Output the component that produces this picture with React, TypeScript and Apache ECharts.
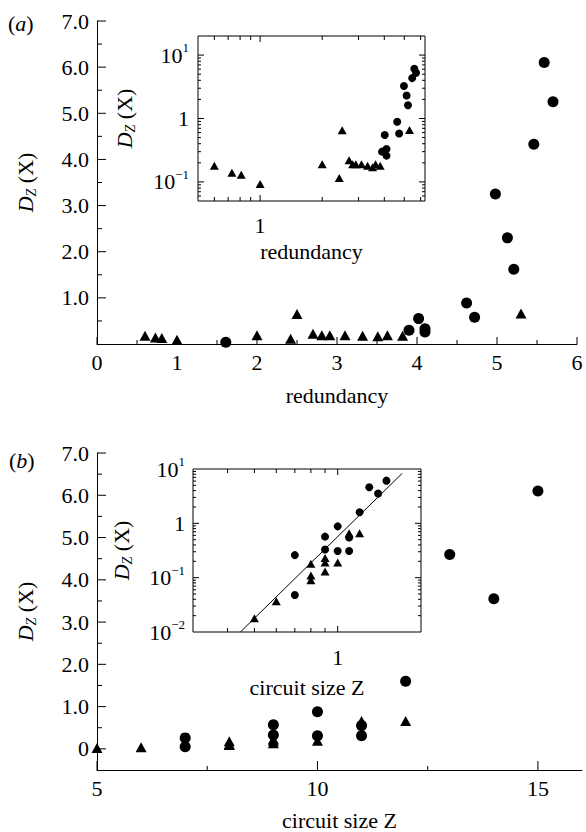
import React, { useEffect, useRef } from 'react';
import * as echarts from 'echarts';

// ---------- panel (a): D_Z(X) vs redundancy ----------
const redTriX = [0.6, 0.73, 0.81, 1.0, 2.0, 2.42, 2.5, 2.7, 2.81, 2.91, 3.1, 3.32, 3.51, 3.63, 3.82, 5.3];
const redTriY = [0.18, 0.14, 0.13, 0.093, 0.19, 0.115, 0.65, 0.22, 0.19, 0.19, 0.19, 0.18, 0.17, 0.19, 0.18, 0.66];
const redCirX = [1.61, 3.9, 4.02, 4.1, 4.1, 4.62, 4.72, 4.98, 5.13, 5.21, 5.46, 5.59, 5.7];
const redCirY = [0.04, 0.3, 0.55, 0.26, 0.33, 0.89, 0.58, 3.25, 2.3, 1.62, 4.33, 6.1, 5.25];

// ---------- panel (b): D_Z(X) vs circuit size Z ----------
const sizeCirZ = [7, 7, 9, 9, 10, 10, 11, 11, 12, 13, 14, 15];
const sizeCirD = [0.26, 0.048, 0.57, 0.33, 0.88, 0.31, 0.55, 0.31, 1.6, 4.6, 3.55, 6.1];
const sizeTriZ = [5, 6, 8, 8, 8, 9, 9, 9, 10, 11, 12];
const sizeTriD = [0.018, 0.037, 0.18, 0.11, 0.09, 0.23, 0.19, 0.13, 0.19, 0.66, 0.66];
// inset (b) uses circuit size in units of 10
const insetScaleZ = 10;
// fitted power law line in inset (b), its two end points
const fitX = [0.445, 1.71];
const fitY = [0.01, 8.3];

// ---------- tick values ----------
const aXMajor = [0, 1, 2, 3, 4, 5, 6];
const aXMinor = [0.5, 1.5, 2.5, 3.5, 4.5, 5.5];
const aYMajor = [1, 2, 3, 4, 5, 6, 7];
const aYMinor = [0.5, 1.5, 2.5, 3.5, 4.5, 5.5, 6.5];
const aiXMajor = [1];
const aiXMinor = [0.6, 0.7, 0.8, 0.9, 2, 3, 4, 5, 6];
const aiYMajor = [0.1, 1, 10];
const aiYMinor = [0.06, 0.07, 0.08, 0.09, 0.2, 0.3, 0.4, 0.5, 0.6, 0.7, 0.8, 0.9, 2, 3, 4, 5, 6, 7, 8, 9];
const bXMajor = [5, 10, 15];
const bXMinor = [7.5, 12.5];
const bYMajor = [0, 1, 2, 3, 4, 5, 6, 7];
const bYMinor = [0.5, 1.5, 2.5, 3.5, 4.5, 5.5, 6.5];
const biXMajor = [1];
const biXMinor = [0.4, 0.5, 0.6, 0.7, 0.8, 0.9];
const biYMajor = [0.1, 1];
const biYMinor = [0.02, 0.03, 0.04, 0.05, 0.06, 0.07, 0.08, 0.09, 0.2, 0.3, 0.4, 0.5, 0.6, 0.7, 0.8, 0.9, 2, 3, 4, 5, 6, 7, 8, 9];

const FONT = '"Liberation Serif", "Times New Roman", serif';
const FS = 22;

const zip = (xs: number[], ys: number[]) => xs.map((x, i) => [x, ys[i]]);

// side: 0 bottom, 1 top, 2 left, 3 right
const mk = (vals: number[], axis: 'x' | 'y', ref: number, len: number, sides: number[]) => {
  const out: number[][] = [];
  sides.forEach((s) => vals.forEach((v) => out.push(axis === 'x' ? [v, ref, len, s] : [ref, v, len, s])));
  return out;
};

const tickRender = (params: any, api: any) => {
  const cs = params.coordSys;
  const p = api.coord([api.value(0), api.value(1)]);
  const len = api.value(2);
  const side = api.value(3);
  const bottom = cs.y + cs.height;
  const right = cs.x + cs.width;
  let s;
  if (side === 0) s = { x1: p[0], y1: bottom, x2: p[0], y2: bottom - len };
  else if (side === 1) s = { x1: p[0], y1: cs.y, x2: p[0], y2: cs.y + len };
  else if (side === 2) s = { x1: cs.x, y1: p[1], x2: cs.x + len, y2: p[1] };
  else s = { x1: right, y1: p[1], x2: right - len, y2: p[1] };
  return { type: 'line', shape: s, style: { stroke: '#000', lineWidth: 1 } };
};

const labelRich = {
  b: { fontSize: FS, fontFamily: FONT, color: '#000', lineHeight: 28 },
  s: { fontSize: 13, fontFamily: FONT, color: '#000', verticalAlign: 'top', lineHeight: 28 },
};

const logLabel = (v: number) => {
  const l = Math.log10(v);
  const e = Math.round(l);
  if (Math.abs(l - e) > 1e-6) return '';
  if (e === 0) return '{b|1}';
  return `{b|10}{s|${e < 0 ? '\u2212' + -e : e}}`;
};

const nameRich = {
  i: { fontSize: FS, fontFamily: FONT, fontStyle: 'italic', color: '#000', lineHeight: 26 },
  z: { fontSize: 14, fontFamily: FONT, fontStyle: 'italic', color: '#000', verticalAlign: 'bottom', lineHeight: 26 },
  n: { fontSize: FS, fontFamily: FONT, color: '#000', lineHeight: 26 },
};
const yName = '{i|D}{z|Z}{n| (X)}';

const baseLabel = { color: '#000', fontFamily: FONT, fontSize: FS };
const axisLineOn = { show: true, onZero: false, lineStyle: { color: '#000', width: 1 } };
const off = { show: false };
const black = { color: '#000', opacity: 1 };

export default function App() {
  const ref = useRef<HTMLDivElement>(null);
  useEffect(() => {
    const chart = echarts.init(ref.current!, null, { renderer: 'svg' });
    const nameStyle = { color: '#000', fontFamily: FONT, fontSize: FS };
    const option: any = {
      animation: false,
      backgroundColor: '#fff',
      grid: [
        { left: 97, top: 21, width: 480, height: 323, show: false },
        { left: 198, top: 36, width: 227, height: 165, show: true, borderColor: '#000', borderWidth: 1, backgroundColor: '#fff' },
        { left: 97, top: 453, width: 485, height: 320, show: false },
        { left: 193, top: 469, width: 228, height: 163, show: true, borderColor: '#000', borderWidth: 1, backgroundColor: '#fff' },
      ],
      xAxis: [
        {
          gridIndex: 0, type: 'value', min: 0, max: 6, interval: 1,
          axisLine: axisLineOn, axisTick: off, splitLine: off,
          axisLabel: { ...baseLabel, margin: 7, formatter: (v: number) => String(v) },
          name: 'redundancy', nameLocation: 'middle', nameGap: 40, nameTextStyle: nameStyle,
        },
        {
          gridIndex: 1, type: 'log', logBase: 10, min: 0.5, max: 6.3,
          axisLine: off, axisTick: off, splitLine: off, minorTick: off,
          axisLabel: { ...baseLabel, margin: 10, formatter: logLabel, rich: labelRich },
          name: 'redundancy', nameLocation: 'middle', nameGap: 39, nameTextStyle: nameStyle,
        },
        {
          gridIndex: 2, type: 'value', min: 5, max: 16, interval: 5,
          axisLine: axisLineOn, axisTick: off, splitLine: off,
          axisLabel: { ...baseLabel, margin: 7, formatter: (v: number) => (v % 5 === 0 ? String(v) : '') },
          name: 'circuit size Z', nameLocation: 'middle', nameGap: 39, nameTextStyle: nameStyle,
        },
        {
          gridIndex: 3, type: 'log', logBase: 10, min: 0.3, max: 2,
          axisLine: off, axisTick: off, splitLine: off, minorTick: off,
          axisLabel: { ...baseLabel, margin: 11, formatter: logLabel, rich: labelRich },
          name: 'circuit size Z', nameLocation: 'middle', nameGap: 44, nameTextStyle: nameStyle,
        },
      ],
      yAxis: [
        {
          gridIndex: 0, type: 'value', min: 0, max: 7, interval: 1,
          axisLine: axisLineOn, axisTick: off, splitLine: off,
          axisLabel: { ...baseLabel, margin: 8, formatter: (v: number) => (v === 0 ? '' : v.toFixed(1)) },
          name: yName, nameLocation: 'middle', nameRotate: 90, nameGap: 59,
          nameTextStyle: { ...nameStyle, rich: nameRich },
        },
        {
          gridIndex: 1, type: 'log', logBase: 10, min: 0.05, max: 20,
          axisLine: off, axisTick: off, splitLine: off, minorTick: off,
          axisLabel: { ...baseLabel, margin: 9, formatter: logLabel, rich: labelRich },
          name: yName, nameLocation: 'middle', nameRotate: 90, nameGap: 61,
          nameTextStyle: { ...nameStyle, rich: nameRich },
        },
        {
          gridIndex: 2, type: 'value', min: -0.5, max: 7, interval: 0.5,
          axisLine: axisLineOn, axisTick: off, splitLine: off,
          axisLabel: {
            ...baseLabel, margin: 8,
            formatter: (v: number) => (v === 0 ? '0' : v > 0 && Number.isInteger(v) ? v.toFixed(1) : ''),
          },
          name: yName, nameLocation: 'middle', nameRotate: 90, nameGap: 59,
          nameTextStyle: { ...nameStyle, rich: nameRich },
        },
        {
          gridIndex: 3, type: 'log', logBase: 10, min: 0.01, max: 10,
          axisLine: off, axisTick: off, splitLine: off, minorTick: off,
          axisLabel: { ...baseLabel, margin: 8, formatter: logLabel, rich: labelRich },
          name: yName, nameLocation: 'middle', nameRotate: 90, nameGap: 59,
          nameTextStyle: { ...nameStyle, rich: nameRich },
        },
      ],
      graphic: [
        {
          type: 'text', left: 8, top: 12,
          style: {
            text: '{n|(}{i|a}{n|)}',
            rich: { n: { fontSize: FS, fontFamily: FONT, fill: '#000' }, i: { fontSize: FS, fontFamily: FONT, fontStyle: 'italic', fill: '#000' } },
          },
        },
        {
          type: 'text', left: 9, top: 449,
          style: {
            text: '{n|(}{i|b}{n|)}',
            rich: { n: { fontSize: FS, fontFamily: FONT, fill: '#000' }, i: { fontSize: FS, fontFamily: FONT, fontStyle: 'italic', fill: '#000' } },
          },
        },
      ],
      series: [
        // ticks
        {
          type: 'custom', xAxisIndex: 0, yAxisIndex: 0, renderItem: tickRender, silent: true, z: 3,
          data: [
            ...mk(aXMajor, 'x', 1, 7, [0]), ...mk(aXMinor, 'x', 1, 4, [0]),
            ...mk(aYMajor, 'y', 1, 9, [2]), ...mk(aYMinor, 'y', 1, 5, [2]),
          ],
        },
        {
          type: 'custom', xAxisIndex: 1, yAxisIndex: 1, renderItem: tickRender, silent: true, z: 3,
          data: [
            ...mk(aiXMajor, 'x', 1, 6, [0, 1]), ...mk(aiXMinor, 'x', 1, 4, [0, 1]),
            ...mk(aiYMajor, 'y', 1, 6, [2, 3]), ...mk(aiYMinor, 'y', 1, 3, [2, 3]),
          ],
        },
        {
          type: 'custom', xAxisIndex: 2, yAxisIndex: 2, renderItem: tickRender, silent: true, z: 3,
          data: [
            ...mk(bXMajor, 'x', 1, 9, [0]), ...mk(bXMinor, 'x', 1, 4, [0]),
            ...mk(bYMajor, 'y', 6, 9, [2]), ...mk(bYMinor, 'y', 6, 5, [2]),
          ],
        },
        {
          type: 'custom', xAxisIndex: 3, yAxisIndex: 3, renderItem: tickRender, silent: true, z: 3,
          data: [
            ...mk(biXMajor, 'x', 1, 6, [0, 1]), ...mk(biXMinor, 'x', 1, 4, [0, 1]),
            ...mk(biYMajor, 'y', 1, 6, [2, 3]), ...mk(biYMinor, 'y', 1, 3, [2, 3]),
          ],
        },
        // panel (a) main
        { type: 'scatter', xAxisIndex: 0, yAxisIndex: 0, symbol: 'triangle', symbolSize: [11, 10], itemStyle: black, data: zip(redTriX, redTriY), z: 4 },
        { type: 'scatter', xAxisIndex: 0, yAxisIndex: 0, symbol: 'circle', symbolSize: 11, itemStyle: black, data: zip(redCirX, redCirY), z: 4 },
        // panel (a) inset
        { type: 'scatter', xAxisIndex: 1, yAxisIndex: 1, clip: true, symbol: 'triangle', symbolSize: [9, 8], itemStyle: black, data: zip(redTriX, redTriY), z: 4 },
        { type: 'scatter', xAxisIndex: 1, yAxisIndex: 1, clip: true, symbol: 'circle', symbolSize: 8, itemStyle: black, data: zip(redCirX, redCirY), z: 4 },
        // panel (b) main
        { type: 'scatter', xAxisIndex: 2, yAxisIndex: 2, symbol: 'triangle', symbolSize: [11, 10], itemStyle: black, data: zip(sizeTriZ, sizeTriD), z: 4 },
        { type: 'scatter', xAxisIndex: 2, yAxisIndex: 2, symbol: 'circle', symbolSize: 11, itemStyle: black, data: zip(sizeCirZ, sizeCirD), z: 4 },
        // panel (b) inset
        { type: 'scatter', xAxisIndex: 3, yAxisIndex: 3, clip: true, symbol: 'triangle', symbolSize: [9, 8], itemStyle: black, data: sizeTriZ.map((z, i) => [z / insetScaleZ, sizeTriD[i]]), z: 4 },
        { type: 'scatter', xAxisIndex: 3, yAxisIndex: 3, clip: true, symbol: 'circle', symbolSize: 8, itemStyle: black, data: sizeCirZ.map((z, i) => [z / insetScaleZ, sizeCirD[i]]), z: 4 },
        {
          type: 'line', xAxisIndex: 3, yAxisIndex: 3, symbol: 'none', clip: true, silent: true,
          lineStyle: { color: '#000', width: 1 }, data: zip(fitX, fitY), z: 4,
        },
      ],
    };
    chart.setOption(option);
    return () => chart.dispose();
  }, []);
  return (
    <div
      ref={ref}
      style={{ position: 'absolute', left: 0, top: 0, width: 586, height: 832, background: '#fff' }}
    />
  );
}
